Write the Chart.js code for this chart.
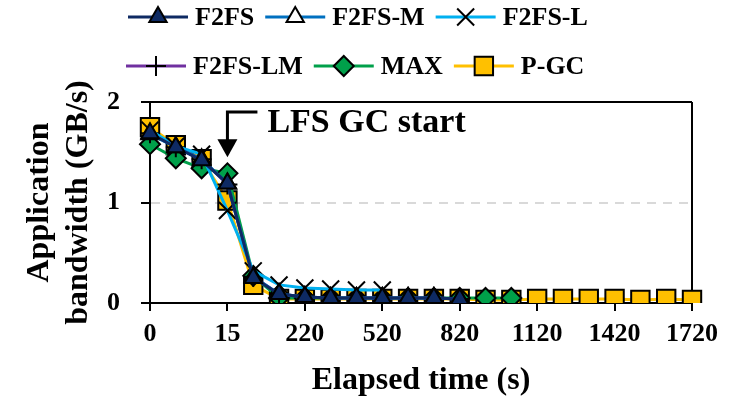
<!DOCTYPE html>
<html>
<head>
<meta charset="utf-8">
<script src="https://cdn.jsdelivr.net/npm/chart.js@4/dist/chart.umd.min.js"></script>
<style>
  html, body { margin: 0; padding: 0; background: #ffffff; }
  #wrap { width: 733px; height: 413px; position: relative; }
</style>
</head>
<body>
<div id="wrap"><canvas id="c" width="733" height="413"></canvas></div>
<script>
// ---- data ----
const categories = ['0','5','10','15','20','120','220','320','420','520','620','720','820','920','1020','1120','1220','1320','1420','1520','1620','1720'];
const seriesNames = ['F2FS','F2FS-M','F2FS-L','F2FS-LM','MAX','P-GC'];
const f2fs   = [1.69, 1.55, 1.42, 1.19, 0.25, 0.09, 0.06, 0.05, 0.05, 0.05, 0.05, 0.05, 0.04];
const f2fsM  = [1.68, 1.55, 1.43, 1.19, 0.26, 0.09, 0.06, 0.05, 0.05, 0.05, 0.05, 0.05, 0.04];
const f2fsL  = [1.72, 1.56, 1.48, 0.92, 0.32, 0.18, 0.15, 0.14, 0.13, 0.13];
const f2fsLM = [1.69, 1.55, 1.43, 1.18, 0.26, 0.09, 0.06, 0.05, 0.05, 0.05, 0.05, 0.05, 0.04];
const maxS   = [1.58, 1.44, 1.34, 1.29, 0.27, 0.05, 0.05, 0.05, 0.05, 0.05, 0.05, 0.05, 0.05, 0.05, 0.05];
const pgc    = [1.75, 1.57, 1.43, 1.02, 0.18, 0.04, 0.04, 0.04, 0.04, 0.04, 0.04, 0.04, 0.04, 0.03, 0.03, 0.04, 0.04, 0.04, 0.04, 0.03, 0.04, 0.03];
const yTicks = [0, 1, 2];
const xLabelEvery = 3;
const annotationText = 'LFS GC start';
const xTitle = 'Elapsed time (s)';
const yTitle = ['Application', 'bandwidth (GB/s)'];

const FONT = '"Liberation Serif", "Times New Roman", serif';

const styles = [
  { line: '#0E2A63', fill: '#0E2A63', point: 'triangle', r: 10 },
  { line: '#0070C0', fill: '#FFFFFF', point: 'triangle', r: 10 },
  { line: '#00B0F0', fill: '#000000', point: 'crossRot', r: 12 },
  { line: '#7030A0', fill: '#000000', point: 'cross', r: 10 },
  { line: '#00A04A', fill: '#00A04A', point: 'rectRot', r: 10 },
  { line: '#FFC000', fill: '#FFC000', point: 'rect', r: 13 }
];
const seriesData = [f2fs, f2fsM, f2fsL, f2fsLM, maxS, pgc];

const datasets = seriesNames.map((name, i) => ({
  label: name,
  data: seriesData[i],
  borderColor: styles[i].line,
  backgroundColor: styles[i].line,
  borderWidth: 3,
  tension: 0,
  pointStyle: styles[i].point,
  pointRadius: styles[i].r,
  pointHoverRadius: styles[i].r,
  pointBackgroundColor: styles[i].fill,
  pointBorderColor: '#000000',
  pointBorderWidth: 2
}));

function drawMarker(ctx, style, x, y) {
  const opts = { pointStyle: style.point, radius: style.r, rotation: 0, borderWidth: 2 };
  ctx.save();
  ctx.fillStyle = style.fill;
  ctx.strokeStyle = '#000000';
  ctx.lineWidth = 2;
  Chart.helpers.drawPoint(ctx, opts, x, y);
  ctx.restore();
}

const overlayPlugin = {
  id: 'overlay',
  afterDraw(chart) {
    const ctx = chart.ctx;
    const xs = chart.scales.x, ys = chart.scales.y;
    // legend (two rows of three)
    ctx.save();
    ctx.font = 'bold 26px ' + FONT;
    ctx.textBaseline = 'middle';
    ctx.textAlign = 'left';
    const rows = [[0,1,2],[3,4,5]];
    const rowY = [17, 66];
    const rowX = [128, 126];
    rows.forEach((row, ri) => {
      let x = rowX[ri];
      const y = rowY[ri];
      row.forEach(i => {
        ctx.strokeStyle = styles[i].line;
        ctx.lineWidth = 3;
        ctx.beginPath();
        ctx.moveTo(x, y);
        ctx.lineTo(x + 60, y);
        ctx.stroke();
        drawMarker(ctx, styles[i], x + 30, y);
        ctx.fillStyle = '#000000';
        ctx.font = 'bold 26px ' + FONT;
        ctx.textBaseline = 'middle';
        ctx.fillText(seriesNames[i], x + 67, y + 1);
        x += 67 + ctx.measureText(seriesNames[i]).width + 11;
      });
    });
    // annotation arrow
    const ax = xs.getPixelForValue(3);
    const yTop = ys.getPixelForValue(1.9);
    const yTip = ys.getPixelForValue(1.45);
    ctx.strokeStyle = '#000000';
    ctx.fillStyle = '#000000';
    ctx.lineWidth = 3;
    ctx.beginPath();
    ctx.moveTo(ax + 30, yTop);
    ctx.lineTo(ax, yTop);
    ctx.lineTo(ax, yTip - 16);
    ctx.stroke();
    ctx.beginPath();
    ctx.moveTo(ax - 10, yTip - 18);
    ctx.lineTo(ax + 10, yTip - 18);
    ctx.lineTo(ax, yTip);
    ctx.closePath();
    ctx.fill();
    ctx.font = 'bold 34px ' + FONT;
    ctx.textBaseline = 'middle';
    ctx.fillText(annotationText, ax + 40, ys.getPixelForValue(1.79));
    ctx.restore();
  }
};

new Chart(document.getElementById('c'), {
  type: 'line',
  data: { labels: categories, datasets },
  options: {
    responsive: false,
    animation: false,
    events: [],
    layout: { padding: { top: 102, right: 41, left: 0, bottom: 0 } },
    plugins: { legend: { display: false }, tooltip: { enabled: false }, title: { display: false } },
    scales: {
      x: {
        type: 'category',
        offset: false,
        afterFit(s) { s.height = 110; },
        grid: {
          drawOnChartArea: true,
          color: c => (c.index === categories.length - 1 ? '#000000' : 'rgba(0,0,0,0)'),
          lineWidth: 2,
          tickColor: c => (c.index % xLabelEvery === 0 ? '#000000' : 'rgba(0,0,0,0)'),
          tickLength: 8,
          tickWidth: 2
        },
        border: { display: true, color: '#000000', width: 2 },
        ticks: {
          autoSkip: false,
          maxRotation: 0,
          padding: 8,
          color: '#000000',
          font: { family: FONT, size: 26, weight: 'bold' },
          callback: (v, i) => (i % xLabelEvery === 0 ? categories[i] : '')
        },
        title: {
          display: true,
          text: xTitle,
          color: '#000000',
          font: { family: FONT, size: 32, weight: 'bold' },
          padding: { top: 0, bottom: 13 }
        }
      },
      y: {
        min: 0, max: 2,
        afterFit(s) { s.width = 150; },
        afterBuildTicks(s) { s.ticks = yTicks.map(v => ({ value: v })); },
        grid: {
          color: c => (c.tick && c.tick.value === 1 ? '#D9D9D9' : '#000000'),
          lineWidth: 2,
          tickColor: '#000000',
          tickLength: 9,
          tickWidth: 2
        },
        border: {
          display: true, color: '#000000', width: 2,
          dash: c => (c.tick && c.tick.value === 1 ? [9, 7] : [])
        },
        ticks: {
          padding: 21,
          color: '#000000',
          font: { family: FONT, size: 26, weight: 'bold' }
        },
        title: {
          display: true,
          text: yTitle,
          color: '#000000',
          font: { family: FONT, size: 32, weight: 'bold', lineHeight: 1.2 },
          padding: { top: 21, bottom: 0 }
        }
      }
    }
  },
  plugins: [overlayPlugin]
});
</script>
</body>
</html>
